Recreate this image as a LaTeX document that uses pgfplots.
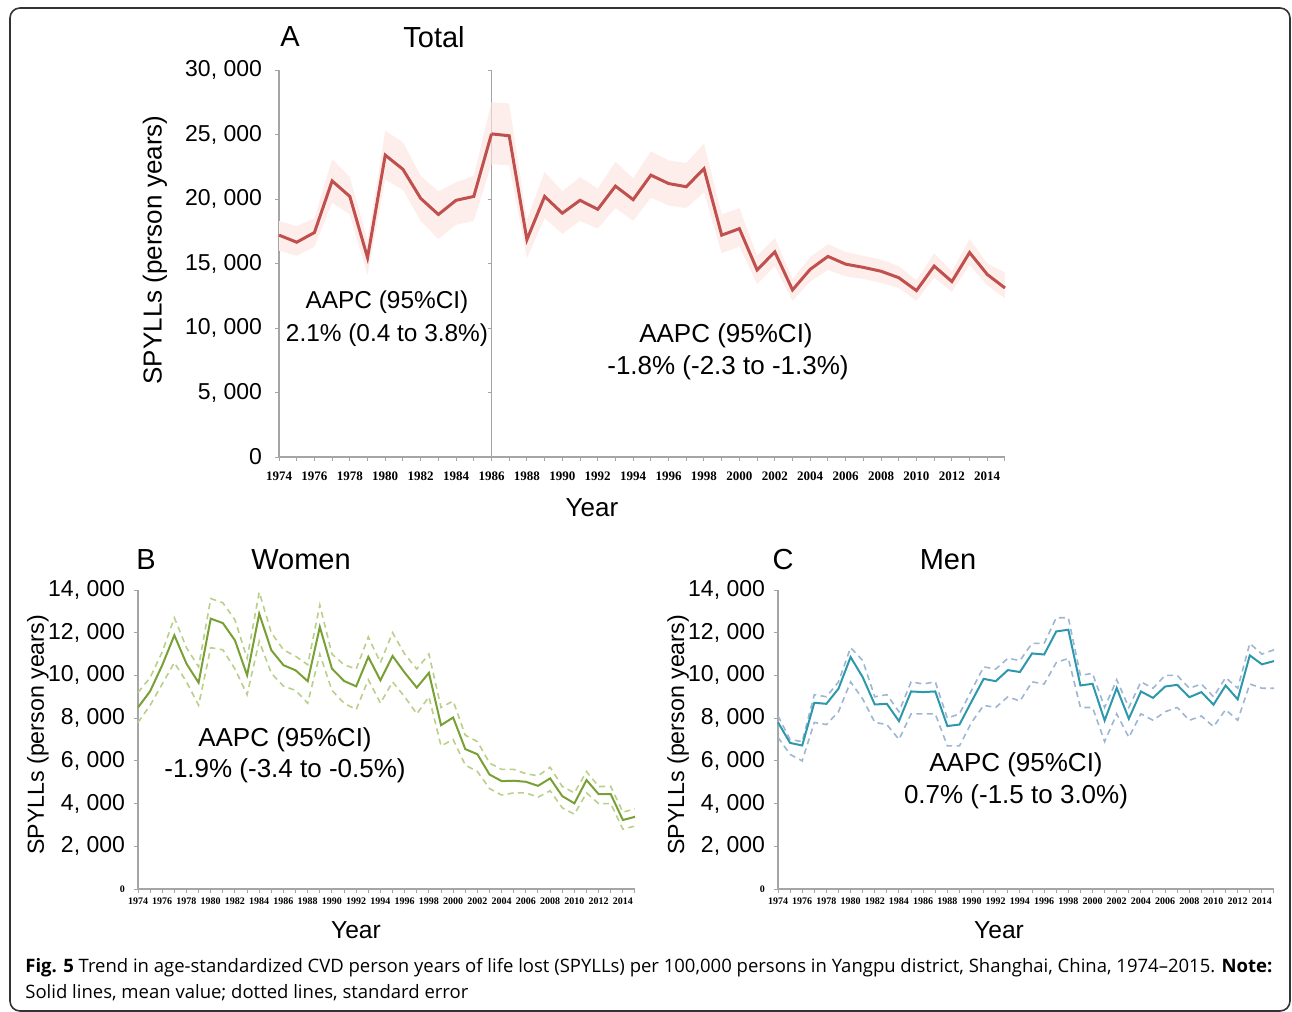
\documentclass[border=0pt]{standalone}
\usepackage{pgfplots}
\pgfplotsset{compat=1.18}
\usepackage{pgfplotstable}
\usepgfplotslibrary{fillbetween}
\usepackage{fontspec}
\setmainfont{Liberation Sans}
\newfontfamily\tnr{Liberation Serif}
\newfontfamily\capfont{Open Sans}

\definecolor{axgray}{RGB}{165,165,165}
\definecolor{redline}{RGB}{192,80,77}
\definecolor{bandred}{RGB}{253,238,236}
\definecolor{greenline}{RGB}{120,160,52}
\definecolor{greendash}{RGB}{185,208,138}
\definecolor{tealline}{RGB}{45,152,172}
\definecolor{bluedash}{RGB}{158,182,210}

\pgfplotstableread{
year mean lo hi
1974 17200 16000 18300
1975 16650 15600 17900
1976 17400 16300 18500
1977 21400 19700 23100
1978 20200 18800 21700
1979 15450 14100 16800
1980 23400 21500 25300
1981 22300 20700 24400
1982 20050 18300 21800
1983 18800 16900 20600
1984 19900 18000 21300
1985 20200 18300 21800
1986 25050 22700 27500
}\TAa

\pgfplotstableread{
year mean lo hi
1986 25050 22700 27500
1987 24900 22600 27400
1988 16850 15400 18400
1989 20200 18500 22100
1990 18900 17300 20600
1991 19900 18300 21700
1992 19200 17700 20800
1993 21000 19300 22900
1994 19950 18300 21600
1995 21850 20100 23700
1996 21200 19500 23000
1997 20950 19300 22800
1998 22350 20500 24300
1999 17200 15800 18800
2000 17700 16300 19300
2001 14500 13400 15600
2002 15900 14800 17000
2003 12950 12100 13800
2004 14550 13600 15500
2005 15550 14500 16500
2006 14950 14000 15900
2007 14700 13800 15600
2008 14400 13500 15300
2009 13900 13100 14800
2010 12900 12100 13700
2011 14800 13900 15800
2012 13600 12800 14400
2013 15850 14900 16900
2014 14150 13300 15000
2015 13100 12300 14300
}\TAb

\pgfplotstableread{
year mean lo hi
1974 8500 7800 9200
1975 9260 8600 9900
1976 10480 9600 11100
1977 11880 10600 12700
1978 10550 9700 11300
1979 9660 8600 10400
1980 12660 11300 13600
1981 12450 11200 13400
1982 11640 10300 12600
1983 10010 9100 10800
1984 12890 11600 13900
1985 11180 10100 12000
1986 10480 9500 11200
1987 10240 9300 10900
1988 9730 8700 10500
1989 12270 11000 13300
1990 10320 9300 11000
1991 9740 8700 10500
1992 9490 8400 10300
1993 10870 9800 11800
1994 9770 8700 10600
1995 10910 9700 12000
1996 10130 9000 11000
1997 9430 8200 10300
1998 10120 9000 11000
1999 7670 6700 8500
2000 8030 7000 8800
2001 6550 5800 7200
2002 6310 5500 6900
2003 5360 4700 5900
2004 5050 4400 5600
2005 5070 4500 5600
2006 5020 4500 5400
2007 4830 4300 5300
2008 5180 4600 5700
2009 4350 3800 4800
2010 4010 3500 4500
2011 5100 4500 5500
2012 4440 4000 4800
2013 4440 4000 4800
2014 3230 2800 3600
2015 3380 2950 3750
}\TB

\pgfplotstableread{
year mean lo hi
1974 7800 7100 8100
1975 6840 6300 7000
1976 6720 6000 6900
1977 8720 7800 9100
1978 8670 7700 9000
1979 9380 8300 9700
1980 10860 9700 11300
1981 9920 8900 10700
1982 8640 7800 9000
1983 8670 7700 9100
1984 7860 7000 8300
1985 9250 8200 9700
1986 9220 8200 9600
1987 9250 8200 9700
1988 7630 6700 8000
1989 7700 6700 8200
1990 8780 7800 9300
1991 9840 8600 10400
1992 9730 8500 10300
1993 10250 9000 10800
1994 10160 8800 10700
1995 11030 9700 11500
1996 10980 9600 11500
1997 12060 10600 12700
1998 12140 10800 12700
1999 9530 8500 10000
2000 9610 8500 10100
2001 7890 6900 8500
2002 9410 8200 9800
2003 7970 7100 8500
2004 9250 8200 9700
2005 8950 7900 9400
2006 9480 8300 10000
2007 9560 8500 10000
2008 8980 7900 9400
2009 9220 8100 9600
2010 8630 7600 9000
2011 9530 8400 9900
2012 8880 7900 9400
2013 10940 9600 11500
2014 10520 9400 11000
2015 10670 9400 11200
}\TC

\pgfplotsset{
  base/.style={
    scale only axis, axis lines=left, enlargelimits=false, clip=false,
    scaled y ticks=false, scaled x ticks=false,
    axis line style={-, draw=axgray, line width=0.6pt},
    tick style={draw=axgray, line width=0.5pt},
    tick align=outside, major tick length=2pt,
    yticklabel style={font=\fontsize{11.5}{12}\selectfont, text=black},
  },
  ticksA/.style={xticklabel style={font=\tnr\bfseries\fontsize{6.5}{7}\selectfont, text=black, yshift=-2pt}},
  ticksBC/.style={
    xticklabel style={font=\tnr\bfseries\fontsize{5}{6}\selectfont, text=black, yshift=1pt},
    xmin=1974, xmax=2015, ymin=0, ymax=14000,
    xtick={1974,...,2015},
    xticklabels={1974,{},1976,{},1978,{},1980,{},1982,{},1984,{},1986,{},1988,{},1990,{},1992,{},1994,{},1996,{},1998,{},2000,{},2002,{},2004,{},2006,{},2008,{},2010,{},2012,{},2014,{}},
    ytick={0,2000,...,14000},
    yticklabels={{\tnr\bfseries\fontsize{5}{6}\selectfont 0},{2, 000},{4, 000},{6, 000},{8, 000},{10, 000},{12, 000},{14, 000}},
  },
}

\begin{document}
\begin{tikzpicture}[x=0.5pt,y=-0.5pt]
\draw[black!80, line width=0.8pt, rounded corners=5pt] (10,8) rectangle (1290,1011);

\coordinate (pA1) at (279,457);
\coordinate (pA2) at (491.5,457);
\coordinate (pB) at (138,889);
\coordinate (pC) at (778,889);

% Panel A, left part
\begin{axis}[base, ticksA, at={(pA1)}, anchor=south west,
  width=106.25pt, height=193.5pt,
  xmin=1974, xmax=1986, ymin=0, ymax=30000,
  xtick={1974,...,1986},
  xticklabels={1974,{},1976,{},1978,{},1980,{},1982,{},1984,{},{}},
  ytick={0,5000,...,30000},
  yticklabels={0,{5, 000},{10, 000},{15, 000},{20, 000},{25, 000},{30, 000}},
  yticklabel style={xshift=-3pt}]
\addplot[draw=none, name path=upA1, forget plot] table[x=year,y=hi]{\TAa};
\addplot[draw=none, name path=loA1, forget plot] table[x=year,y=lo]{\TAa};
\addplot[fill=bandred, draw=none] fill between[of=upA1 and loA1];
\addplot[redline, line width=1.5pt] table[x=year,y=mean]{\TAa};
\end{axis}

% Panel A, right part
\begin{axis}[base, ticksA, at={(pA2)}, anchor=south west,
  width=256.75pt, height=193.5pt,
  xmin=1986, xmax=2015, ymin=0, ymax=30000,
  xtick={1986,...,2015},
  xticklabels={1986,{},1988,{},1990,{},1992,{},1994,{},1996,{},1998,{},2000,{},2002,{},2004,{},2006,{},2008,{},2010,{},2012,{},2014,{}},
  ytick={0,5000,...,30000},
  yticklabels={{},{},{},{},{},{},{}}]
\addplot[draw=none, name path=upA2, forget plot] table[x=year,y=hi]{\TAb};
\addplot[draw=none, name path=loA2, forget plot] table[x=year,y=lo]{\TAb};
\addplot[fill=bandred, draw=none] fill between[of=upA2 and loA2];
\addplot[redline, line width=1.5pt] table[x=year,y=mean]{\TAb};
\end{axis}

% Panel B
\begin{axis}[base, ticksBC, at={(pB)}, anchor=south west,
  width=248.5pt, height=149.5pt, yticklabel style={xshift=-1pt}]
\addplot[greendash, line width=0.8pt, dash pattern=on 3pt off 2.2pt] table[x=year,y=hi]{\TB};
\addplot[greendash, line width=0.8pt, dash pattern=on 3pt off 2.2pt] table[x=year,y=lo]{\TB};
\addplot[greenline, line width=1pt] table[x=year,y=mean]{\TB};
\end{axis}

% Panel C
\begin{axis}[base, ticksBC, at={(pC)}, anchor=south west,
  width=248pt, height=149.5pt, yticklabel style={xshift=-1pt}]
\addplot[bluedash, line width=0.8pt, dash pattern=on 3pt off 2.2pt] table[x=year,y=hi]{\TC};
\addplot[bluedash, line width=0.8pt, dash pattern=on 3pt off 2.2pt] table[x=year,y=lo]{\TC};
\addplot[tealline, line width=1pt] table[x=year,y=mean]{\TC};
\end{axis}

% Titles
\node[font=\fontsize{14.5}{16}\selectfont] at (290,37) {A};
\node[font=\fontsize{14.5}{16}\selectfont] at (434,37) {Total};
\node[font=\fontsize{14.5}{16}\selectfont] at (146,560) {B};
\node[font=\fontsize{14.5}{16}\selectfont] at (301,560) {Women};
\node[font=\fontsize{14.5}{16}\selectfont] at (783,560) {C};
\node[font=\fontsize{14.5}{16}\selectfont] at (948,560) {Men};

% Axis labels
\node[rotate=90, font=\fontsize{13}{14}\selectfont] at (155,250) {SPYLLs (person years)};
\node[rotate=90, font=\fontsize{11.6}{13}\selectfont] at (38,735) {SPYLLs (person years)};
\node[rotate=90, font=\fontsize{11.6}{13}\selectfont] at (678,735) {SPYLLs (person years)};
\node[font=\fontsize{13}{14}\selectfont] at (592,508) {Year};
\node[font=\fontsize{12.3}{14}\selectfont] at (356,930) {Year};
\node[font=\fontsize{12.3}{14}\selectfont] at (999,930) {Year};

% AAPC annotations
\node[font=\fontsize{12.2}{13}\selectfont] at (387,302) {AAPC (95\%CI)};
\node[font=\fontsize{12.2}{13}\selectfont] at (387,335) {2.1\% (0.4 to 3.8\%)};
\node[font=\fontsize{13}{14}\selectfont] at (726,336) {AAPC (95\%CI)};
\node[font=\fontsize{13}{14}\selectfont] at (728,368) {-1.8\% (-2.3 to -1.3\%)};
\node[font=\fontsize{13}{14}\selectfont] at (285,740) {AAPC (95\%CI)};
\node[font=\fontsize{13}{14}\selectfont] at (285,771) {-1.9\% (-3.4 to -0.5\%)};
\node[font=\fontsize{13}{14}\selectfont] at (1016,765) {AAPC (95\%CI)};
\node[font=\fontsize{13}{14}\selectfont] at (1016,797) {0.7\% (-1.5 to 3.0\%)};

% Caption
\node[anchor=base west, inner sep=0pt, font=\capfont\fontsize{9.25}{11}\selectfont] at (25,972)
  {\textbf{Fig. 5} Trend in age-standardized CVD person years of life lost (SPYLLs) per 100,000 persons in Yangpu district, Shanghai, China, 1974–2015. \textbf{Note:}};
\node[anchor=base west, inner sep=0pt, font=\capfont\fontsize{9.25}{11}\selectfont] at (25,998)
  {Solid lines, mean value; dotted lines, standard error};

\pgfresetboundingbox
\path[use as bounding box] (0,0) rectangle (1292,1012);
\end{tikzpicture}
\end{document}
